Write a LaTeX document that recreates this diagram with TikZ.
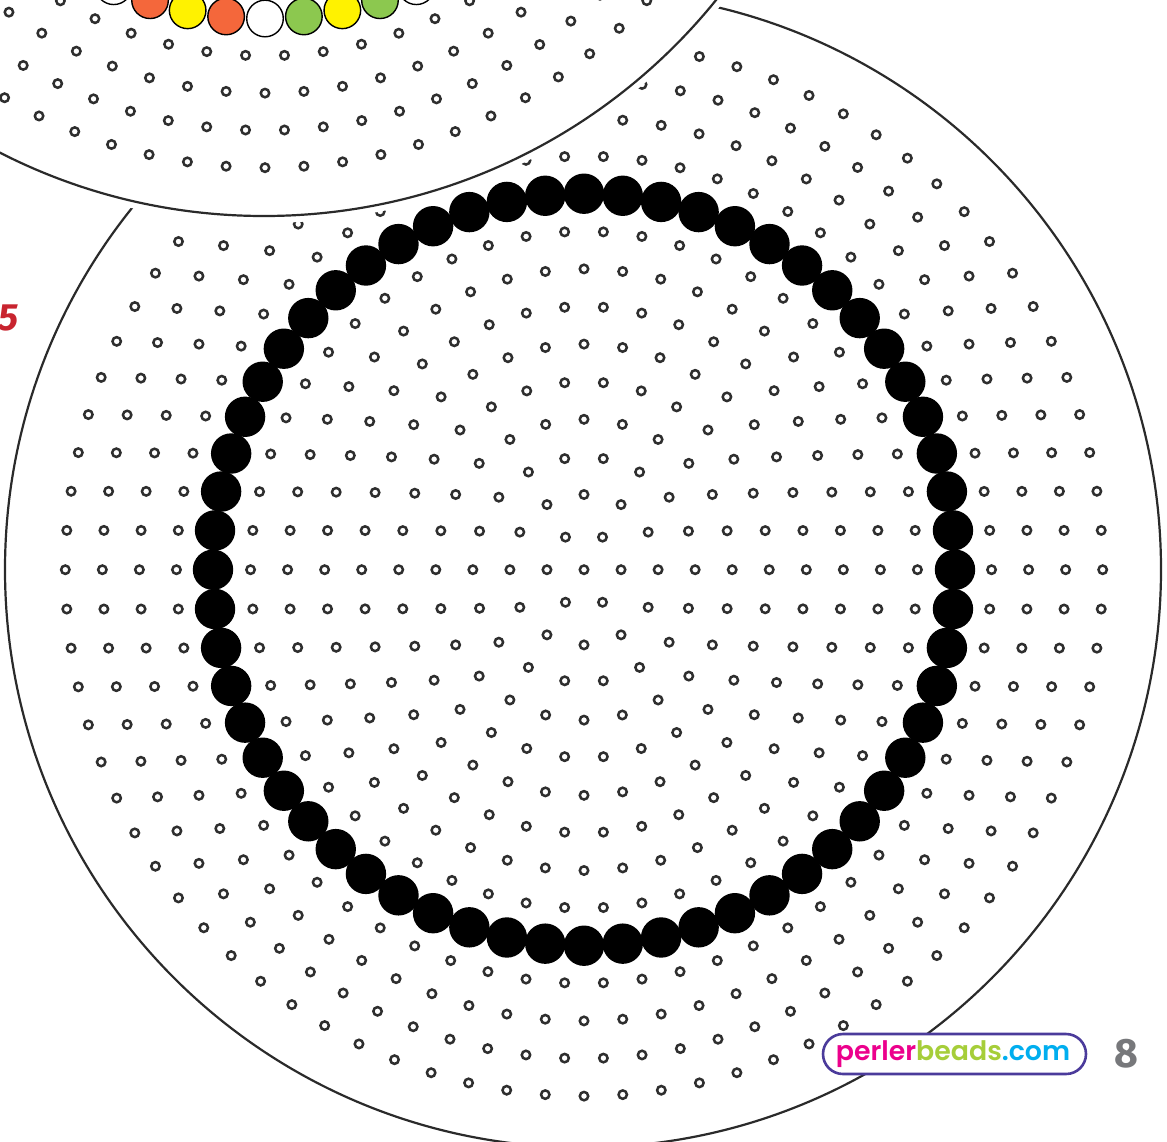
\documentclass[tikz,border=0pt]{standalone}
\usepackage{fontspec}
\setmainfont{Fira Sans}
\newfontfamily\logofont{Poppins}[UprightFont=* Medium,BoldFont=* SemiBold]
\definecolor{boardline}{HTML}{2A2A2A}
\definecolor{pegline}{HTML}{2E2E2E}
\definecolor{beadorange}{HTML}{F4673B}
\definecolor{beadyellow}{HTML}{FFF200}
\definecolor{beadgreen}{HTML}{8CC84F}
\definecolor{logopurple}{HTML}{4B3B9B}
\definecolor{logopink}{HTML}{EC008C}
\definecolor{logogreen}{HTML}{A6CE39}
\definecolor{logocyan}{HTML}{00AEEF}
\definecolor{pagegrey}{HTML}{77787B}
\definecolor{pagered}{HTML}{C8242F}
\tikzset{
  board/.style={draw=boardline,line width=2.2pt,fill=white},
  peg/.style={draw=pegline,line width=2.5pt,fill=white},
  bead/.style={draw=black,line width=1.4pt},
  solidbead/.style={fill=black},
}
% #1 cx, #2 cy, #3 rx step, #4 ry step
\newcommand{\pegrings}[4]{%
  \draw[peg] (#1,#2) circle[radius=4.2pt];
  \foreach \k in {1,...,14}{%
    \ifnum\k=10\else
      \pgfmathtruncatemacro{\n}{6*\k}%
      \pgfmathsetmacro{\st}{360/\n}%
      \foreach \i in {1,...,\n}{%
        \draw[peg] ({#1+#3*\k*cos(\st*\i)},{#2+#4*\k*sin(\st*\i)}) circle[radius=4.2pt];
      }%
    \fi
  }%
}
\begin{document}
\begin{tikzpicture}[x=1pt,y=-1pt]
\useasboundingbox (0,0) rectangle (1167,1141);
\clip (0,0) rectangle (1167,1141);
% large board
\draw[board] (583,569.5) circle[radius=578pt];
\pegrings{584}{569.7}{37.05}{37.6}
\foreach \i in {1,...,60}{%
  \fill[solidbead] ({584+371*cos(6*\i)},{569.7+376*sin(6*\i)}) circle[radius=20.2pt];
}
% upper board, with its white halo
\fill[white] (264,-365) circle[radius=588pt];
\draw[board] (264,-365) circle[radius=581pt];
\pegrings{265}{-354.5}{37.2}{37.3}
\foreach \a/\c in {4/white,3/beadgreen,2/beadyellow,1/beadgreen,0/white,-1/beadorange,-2/beadyellow,-3/beadorange,-4/white}{%
  \filldraw[bead,fill=\c] ({265+372*sin(6*\a)},{-354.5+373*cos(6*\a)}) circle[radius=18.3pt];
}
% page furniture
\node[inner sep=0pt,anchor=center,text=pagered,font=\fontsize{38}{38}\selectfont\bfseries\itshape] (chapter) at (8,318) {5};
\node[inner sep=0pt,anchor=center,text=pagegrey,font=\fontsize{41}{41}\selectfont\bfseries] (page) at (1126.5,1054) {8};
\node[draw=logopurple,line width=2.6pt,fill=white,rounded corners=20pt,minimum width=263pt,minimum height=40pt,inner sep=0pt] (logo) at (954.5,1054) {};
\node[inner sep=0pt,font=\logofont\bfseries\fontsize{26.8}{27}\selectfont] (logotext) at (953,1054.5) {\textcolor{logopink}{perler}\textcolor{logogreen}{beads}\textcolor{logocyan}{.com}};
\end{tikzpicture}
\end{document}
